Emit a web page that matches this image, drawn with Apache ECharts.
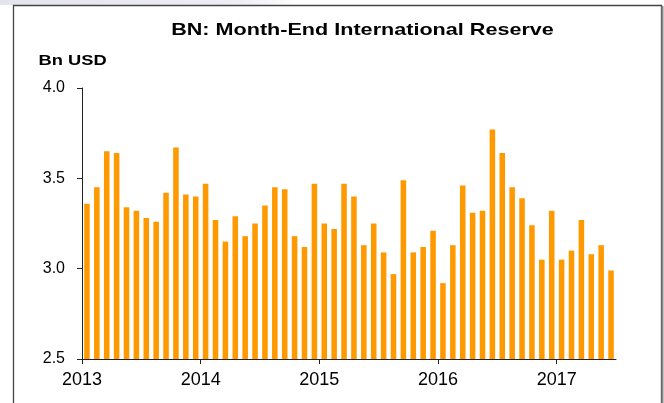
<!DOCTYPE html>
<html>
<head>
<meta charset="utf-8">
<script src="https://cdn.jsdelivr.net/npm/echarts@6/dist/echarts.min.js"></script>
<style>
html,body{margin:0;padding:0;background:#fff;}
#chart{width:664px;height:403px;}
</style>
</head>
<body>
<div id="chart"></div>
<script>
// Tick labels (year starts) and data
var years = ['2013', '2014', '2015', '2016', '2017'];
var monthCount = 54; // Jan 2013 .. Jun 2017
var reserves = [
  3.36, 3.45, 3.65, 3.64, 3.34, 3.32, 3.28, 3.26, 3.42, 3.67, 3.41, 3.40,
  3.47, 3.27, 3.15, 3.29, 3.18, 3.25, 3.35, 3.45, 3.44, 3.18, 3.12, 3.47,
  3.25, 3.22, 3.47, 3.40, 3.13, 3.25, 3.09, 2.97, 3.49, 3.09, 3.12, 3.21,
  2.92, 3.13, 3.46, 3.31, 3.32, 3.77, 3.64, 3.45, 3.39, 3.24, 3.05, 3.32,
  3.05, 3.10, 3.27, 3.08, 3.13, 2.99
];
var yTicks = { min: 2.5, max: 4.0, step: 0.5 };

var months = [];
for (var i = 0; i < monthCount; i++) {
  var y = years[Math.floor(i / 12)];
  var m = (i % 12) + 1;
  months.push(y + '-' + (m < 10 ? '0' + m : m));
}
var yearStarts = years.map(function (y, i) { return i * 12; });

var chart = echarts.init(document.getElementById('chart'), null, { renderer: 'canvas' });
var FONT = '"Liberation Sans", Arial, sans-serif';

chart.setOption({
  backgroundColor: '#ffffff',
  animation: false,
  grid: { left: 82, right: 48, top: 88, bottom: 44, containLabel: false },
  xAxis: [
    {
      type: 'category',
      position: 'bottom',
      data: months,
      boundaryGap: true,
      axisLine: { show: true, lineStyle: { color: '#222', width: 1 } },
      axisTick: { show: false },
      axisLabel: { show: false },
      splitLine: { show: false }
    },
    {
      type: 'value',
      position: 'bottom',
      min: 0,
      max: monthCount,
      axisLine: { show: false },
      axisTick: { show: true, inside: false, length: 5, customValues: yearStarts, lineStyle: { color: '#222' } },
      axisLabel: {
        show: true, customValues: yearStarts, margin: 12,
        fontFamily: FONT, fontSize: 18, color: '#000',
        formatter: function (v) { return years[Math.round(v / 12)] || ''; }
      },
      splitLine: { show: false }
    }
  ],
  yAxis: {
    type: 'value',
    min: yTicks.min,
    max: yTicks.max,
    interval: yTicks.step,
    axisLine: { show: true, lineStyle: { color: '#222', width: 1 } },
    axisTick: { show: true, inside: false, length: 5, lineStyle: { color: '#222' } },
    axisLabel: {
      margin: 17, fontFamily: FONT, fontSize: 16, color: '#000',
      formatter: function (v) { return v.toFixed(1); }
    },
    splitLine: { show: false }
  },
  series: [{
    type: 'bar',
    xAxisIndex: 0,
    data: reserves,
    barWidth: '56%',
    itemStyle: { color: '#FF9900' }
  }],
  graphic: [
    {
      type: 'rect', z: -1, silent: true,
      shape: { x: 0, y: 0, width: 300, height: 5 },
      style: {
        fill: new echarts.graphic.LinearGradient(0, 0, 1, 0, [
          { offset: 0, color: '#E4E4EF' }, { offset: 0.8, color: '#EEEEF5' }, { offset: 1, color: '#ffffff' }
        ])
      }
    },
    {
      type: 'rect', silent: true,
      shape: { x: 13.5, y: 5.5, width: 648, height: 420 },
      style: { fill: 'none', stroke: '#444', lineWidth: 1.3 }
    },
    {
      type: 'line', silent: true,
      shape: { x1: 662.5, y1: 6, x2: 662.5, y2: 403 },
      style: { stroke: '#888', lineWidth: 2 }
    },
    {
      type: 'text', silent: true,
      x: 362.5, y: 30.5, scaleX: 1.27,
      style: {
        text: 'BN: Month-End International Reserve',
        font: 'bold 17px ' + FONT,
        fill: '#000', textAlign: 'center', textVerticalAlign: 'middle'
      }
    },
    {
      type: 'text', silent: true,
      x: 38.5, y: 60.5, scaleX: 1.22,
      style: {
        text: 'Bn USD',
        font: 'bold 15px ' + FONT,
        fill: '#000', textAlign: 'left', textVerticalAlign: 'middle'
      }
    }
  ]
});
</script>
</body>
</html>
